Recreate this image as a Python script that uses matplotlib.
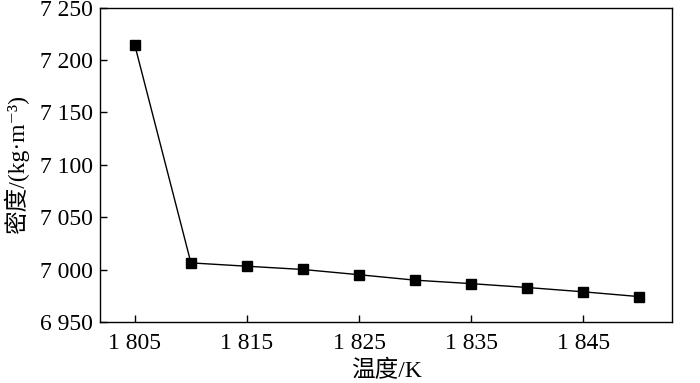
import numpy as np
import matplotlib
matplotlib.use('Agg')
import matplotlib.pyplot as plt
from matplotlib.ticker import FuncFormatter

plt.rcParams['font.family'] = ['Liberation Serif', 'Noto Sans CJK SC', 'DejaVu Serif']

# temperature (K) and density (kg/m^3)
temperature = [1805, 1810, 1815, 1820, 1825, 1830, 1835, 1840, 1845, 1850]
density = [7214, 7006.5, 7003.3, 7000.2, 6995.2, 6990, 6986.7, 6983, 6978.9, 6974.3]
xticks = [1805, 1815, 1825, 1835, 1845]
yticks = [6950, 7000, 7050, 7100, 7150, 7200, 7250]


def spaced(v, pos):
    s = f'{int(round(v))}'
    return s[0] + ' ' + s[1:]


fig = plt.figure(figsize=(7, 3.83), dpi=100)
ax = fig.add_axes([0.143, 0.159, 0.817, 0.821])

ax.plot(temperature, density, color='black', linewidth=1.0,
        marker='s', markersize=7.5, markerfacecolor='black', markeredgecolor='black')

ax.set_xlim(1801.9, 1852.9)
ax.set_ylim(6950, 7250)
ax.set_xticks(xticks)
ax.set_yticks(yticks)
ax.xaxis.set_major_formatter(FuncFormatter(spaced))
ax.yaxis.set_major_formatter(FuncFormatter(spaced))
ax.tick_params(direction='in', length=5, width=1, labelsize=17)
ax.tick_params(axis='x', pad=8)
ax.tick_params(axis='y', pad=5)
for sp in ax.spines.values():
    sp.set_linewidth(1)

ax.set_xlabel('温度/K', fontsize=17, labelpad=4)
ax.set_ylabel('密度/(kg·m⁻³)', fontsize=17, labelpad=8)

fig.savefig('out.png', dpi=100)
